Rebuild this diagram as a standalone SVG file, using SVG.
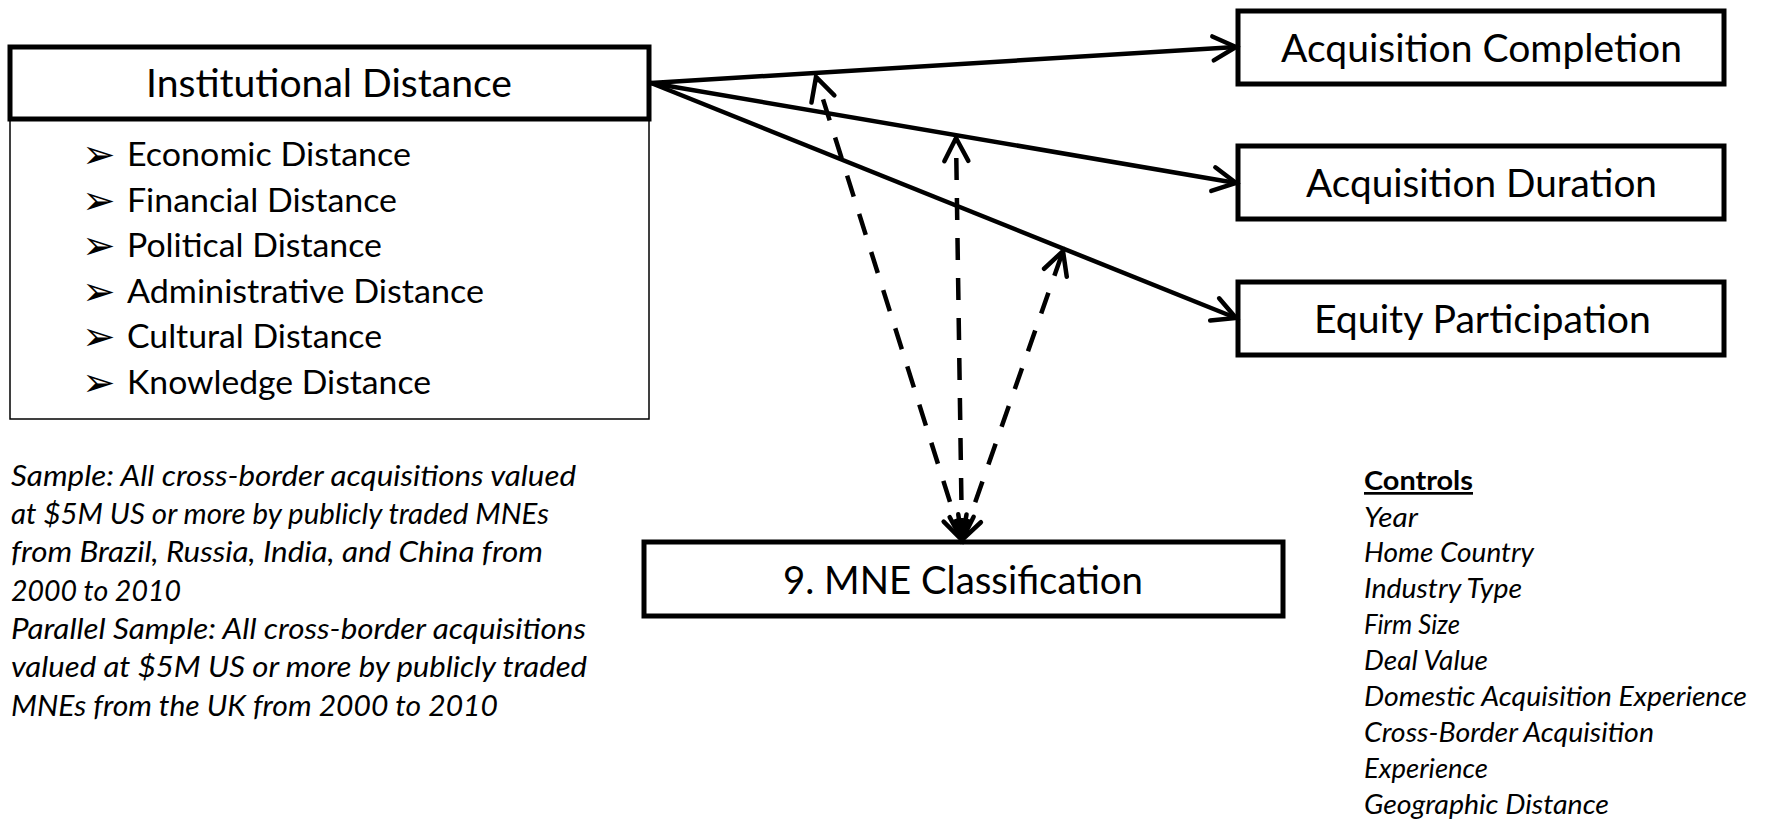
<svg xmlns="http://www.w3.org/2000/svg" width="1765" height="822" viewBox="0 0 1765 822">
<style>
.box{fill:#fff;stroke:#000;stroke-width:5}
.thin{fill:#fff;stroke:#000;stroke-width:1.5}
.t{font-family:Lato,"Liberation Sans",sans-serif;fill:#000}
.big{font-size:38px}
.item{font-size:32px}
.it{font-family:Lato,"Liberation Sans",sans-serif;font-style:italic;font-size:28px;fill:#000}
.ct{font-family:Lato,"Liberation Sans",sans-serif;font-style:italic;font-size:27px;fill:#000}
.bul{font-family:"DejaVu Sans",sans-serif;font-size:40px;fill:#000}
.solid{fill:none;stroke:#000;stroke-width:4.5}
.dash{fill:none;stroke:#000;stroke-width:4.5;stroke-dasharray:22 18}
</style>
<defs>
<marker id="arr" viewBox="-30 -16 36 32" markerWidth="36" markerHeight="32" refX="0" refY="0" orient="auto-start-reverse" markerUnits="userSpaceOnUse">
<path d="M-23,-12 L0,0 L-23,12" fill="none" stroke="#000" stroke-width="4.5" stroke-linecap="round"/>
</marker>
</defs>

<g id="node-institutional">
<rect class="thin" x="10" y="119" width="639" height="300"/>
<rect class="box" x="10" y="47" width="639" height="72"/>
<text class="t big" x="146" y="97" textLength="366" lengthAdjust="spacingAndGlyphs">Institutional Distance</text>
<text class="bul" x="82" y="168">➢</text>
<text class="t item" x="127" y="166" textLength="284" lengthAdjust="spacingAndGlyphs">Economic Distance</text>
<text class="bul" x="82" y="214">➢</text>
<text class="t item" x="127" y="212" textLength="270" lengthAdjust="spacingAndGlyphs">Financial Distance</text>
<text class="bul" x="82" y="259">➢</text>
<text class="t item" x="127" y="257" textLength="255" lengthAdjust="spacingAndGlyphs">Political Distance</text>
<text class="bul" x="82" y="305">➢</text>
<text class="t item" x="127" y="303" textLength="357" lengthAdjust="spacingAndGlyphs">Administrative Distance</text>
<text class="bul" x="82" y="350">➢</text>
<text class="t item" x="127" y="348" textLength="255" lengthAdjust="spacingAndGlyphs">Cultural Distance</text>
<text class="bul" x="82" y="396">➢</text>
<text class="t item" x="127" y="394" textLength="304" lengthAdjust="spacingAndGlyphs">Knowledge Distance</text>
</g>

<g id="node-completion">
<rect class="box" x="1238" y="11" width="486" height="73"/>
<text class="t big" x="1281" y="62" textLength="401" lengthAdjust="spacingAndGlyphs">Acquisition Completion</text>
</g>
<g id="node-duration">
<rect class="box" x="1238" y="146" width="486" height="73"/>
<text class="t big" x="1306" y="197" textLength="351" lengthAdjust="spacingAndGlyphs">Acquisition Duration</text>
</g>
<g id="node-equity">
<rect class="box" x="1238" y="282" width="486" height="73"/>
<text class="t big" x="1314" y="333" textLength="337" lengthAdjust="spacingAndGlyphs">Equity Participation</text>
</g>
<g id="node-mne">
<rect class="box" x="644" y="542" width="639" height="74"/>
<text class="t big" x="783" y="594" textLength="360" lengthAdjust="spacingAndGlyphs">9. MNE Classification</text>
</g>

<g id="connectors">
<line class="solid" x1="651" y1="83" x2="1236" y2="47" marker-end="url(#arr)"/>
<line class="solid" x1="651" y1="83" x2="1236" y2="183" marker-end="url(#arr)"/>
<line class="solid" x1="651" y1="83" x2="1236" y2="318" marker-end="url(#arr)"/>
<line class="dash" x1="962" y1="540" x2="816" y2="77" marker-start="url(#arr)" marker-end="url(#arr)"/>
<line class="dash" x1="962" y1="540" x2="956" y2="138" marker-start="url(#arr)" marker-end="url(#arr)"/>
<line class="dash" x1="962" y1="540" x2="1063" y2="251" marker-start="url(#arr)" marker-end="url(#arr)"/>
</g>

<g id="sample-note">
<text class="it" x="11" y="486" textLength="565" lengthAdjust="spacingAndGlyphs">Sample: All cross-border acquisitions valued</text>
<text class="it" x="11" y="524" textLength="538" lengthAdjust="spacingAndGlyphs">at $5M US or more by publicly traded MNEs</text>
<text class="it" x="11" y="562" textLength="532" lengthAdjust="spacingAndGlyphs">from Brazil, Russia, India, and China from</text>
<text class="it" x="11" y="601" textLength="170" lengthAdjust="spacingAndGlyphs">2000 to 2010</text>
<text class="it" x="11" y="639" textLength="575" lengthAdjust="spacingAndGlyphs">Parallel Sample: All cross-border acquisitions</text>
<text class="it" x="11" y="677" textLength="576" lengthAdjust="spacingAndGlyphs">valued at $5M US or more by publicly traded</text>
<text class="it" x="11" y="716" textLength="487" lengthAdjust="spacingAndGlyphs">MNEs from the UK from 2000 to 2010</text>
</g>

<g id="controls">
<text class="t" x="1364" y="490" font-size="27" font-weight="bold" text-decoration="underline" textLength="109" lengthAdjust="spacingAndGlyphs">Controls</text>
<text class="ct" x="1364" y="527" textLength="54" lengthAdjust="spacingAndGlyphs">Year</text>
<text class="ct" x="1364" y="562" textLength="170" lengthAdjust="spacingAndGlyphs">Home Country</text>
<text class="ct" x="1364" y="598" textLength="158" lengthAdjust="spacingAndGlyphs">Industry Type</text>
<text class="ct" x="1364" y="634" textLength="96" lengthAdjust="spacingAndGlyphs">Firm Size</text>
<text class="ct" x="1364" y="670" textLength="124" lengthAdjust="spacingAndGlyphs">Deal Value</text>
<text class="ct" x="1364" y="706" textLength="383" lengthAdjust="spacingAndGlyphs">Domestic Acquisition Experience</text>
<text class="ct" x="1364" y="742" textLength="290" lengthAdjust="spacingAndGlyphs">Cross-Border Acquisition</text>
<text class="ct" x="1364" y="778" textLength="124" lengthAdjust="spacingAndGlyphs">Experience</text>
<text class="ct" x="1364" y="814" textLength="245" lengthAdjust="spacingAndGlyphs">Geographic Distance</text>
</g>
</svg>
